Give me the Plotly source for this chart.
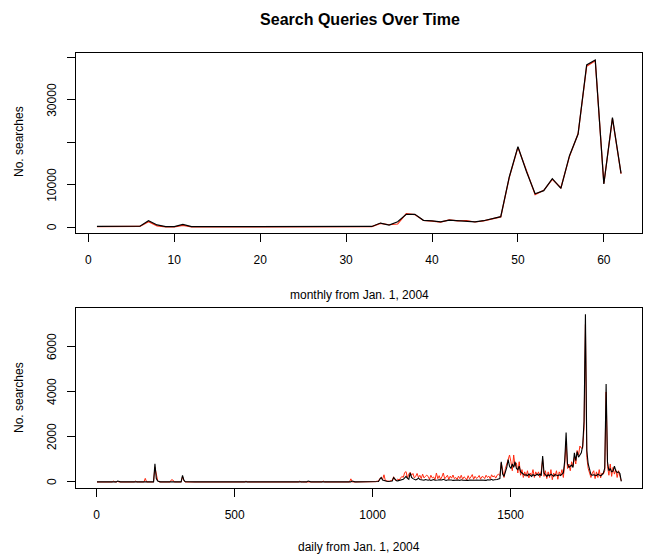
import plotly.graph_objects as go

# ---------------- data ----------------
months = list(range(1, 63))
monthly_black = [200, 200, 250, 200, 200, 250, 1550, 550, 150, 150,
                 700, 150, 150, 150, 150, 150, 200, 150, 150, 150,
                 150, 150, 150, 150, 200, 150, 150, 150, 200, 200,
                 200, 150, 200, 1000, 540, 1300, 3050, 3050, 1650, 1500,
                 1300, 1700, 1550, 1550, 1300, 1550, 1950, 2500, 11900, 18970,
                 13090, 7900, 8620, 11440, 9170, 16850, 21950, 38190, 39360, 10190,
                 25790, 12700]
monthly_red = [150, 150, 200, 150, 150, 200, 1300, 350, 100, 100,
               450, 100, 100, 100, 100, 150, 250, 150, 100, 100,
               100, 100, 100, 150, 250, 150, 100, 100, 150, 250,
               200, 100, 150, 900, 600, 770, 3200, 3000, 1600, 1450,
               1200, 1750, 1500, 1600, 1250, 1500, 1900, 2450, 11800, 18800,
               13300, 7700, 8700, 11300, 9300, 16700, 22000, 37900, 39200, 10300,
               25600, 12600]

days = list(range(1, 1902, 5))
daily_black = [
    5, 5, 5, 5, 5, 5, 5, 5, 5, 5, 5, 5, 5, 5, 5, 40, 5, 5, 5, 5,
    5, 5, 5, 5, 5, 5, 5, 5, 5, 5, 5, 5, 5, 5, 5, 5, 5, 5, 5, 5,
    5, 5, 810, 150, 40, 10, 5, 5, 5, 5, 5, 5, 5, 5, 5, 5, 5, 5, 5, 5,
    5, 5, 295, 80, 10, 5, 5, 5, 5, 5, 5, 5, 5, 5, 5, 30, 5, 5, 5, 5,
    5, 5, 5, 5, 5, 5, 5, 5, 5, 5, 5, 5, 5, 5, 5, 5, 5, 5, 5, 5,
    5, 5, 5, 5, 5, 5, 5, 5, 5, 5, 5, 5, 5, 5, 5, 5, 5, 5, 5, 5,
    5, 5, 5, 5, 5, 5, 5, 5, 5, 5, 5, 5, 5, 5, 5, 5, 5, 5, 5, 5,
    5, 5, 5, 5, 5, 5, 5, 5, 5, 5, 5, 5, 5, 40, 5, 5, 5, 5, 5, 5,
    5, 5, 5, 5, 5, 5, 5, 5, 5, 5, 5, 5, 5, 5, 5, 5, 5, 5, 5, 5,
    5, 5, 5, 5, 5, 40, 5, 5, 5, 5, 5, 5, 5, 5, 5, 5, 5, 5, 5, 5,
    10, 10, 10, 15, 20, 120, 200, 90, 60, 40, 30, 25, 20, 20, 40, 200, 110, 60, 50, 70,
    80, 90, 120, 180, 250, 160, 120, 400, 200, 150, 100, 90, 120, 180, 110, 90, 100, 80, 110, 90,
    80, 100, 70, 90, 110, 80, 70, 90, 100, 80, 90, 120, 80, 70, 90, 100, 80, 90, 70, 80,
    70, 80, 90, 70, 100, 80, 70, 90, 80, 70, 90, 80, 100, 70, 80, 90, 70, 80, 90, 80,
    80, 90, 70, 100, 80, 90, 120, 80, 100, 90, 110, 130, 150, 900, 350, 250, 450, 650, 990, 700,
    600, 800, 650, 900, 600, 550, 700, 450, 400, 350, 300, 320, 280, 350, 300, 250, 330, 280, 300, 350,
    300, 350, 280, 1150, 400, 300, 250, 320, 280, 350, 300, 260, 330, 300, 280, 320, 290, 350, 400, 950,
    2200, 800, 650, 700, 750, 650, 1300, 950, 1350, 1100, 1200, 1300, 1600, 2700, 7450, 1400, 800, 500, 330, 300,
    320, 300, 280, 350, 300, 270, 320, 400, 620, 4350, 880, 500, 600, 450, 480, 700, 500, 420, 450, 380, 30,
]
daily_red = [
    0, 0, 0, 0, 0, 0, 0, 10, 0, 0, 0, 0, 40, 0, 0, 20, 0, 0, 0, 0,
    0, 0, 0, 0, 0, 0, 0, 0, 40, 0, 0, 0, 0, 0, 0, 160, 0, 0, 0, 0,
    0, 0, 650, 280, 60, 0, 0, 0, 0, 0, 0, 0, 0, 0, 100, 90, 0, 0, 0, 0,
    0, 0, 240, 60, 0, 0, 0, 0, 0, 0, 0, 0, 0, 0, 0, 0, 0, 0, 0, 0,
    0, 0, 0, 0, 0, 0, 0, 0, 0, 0, 0, 0, 0, 0, 0, 0, 0, 0, 0, 0,
    0, 0, 0, 0, 0, 0, 30, 0, 40, 0, 0, 0, 30, 0, 0, 0, 0, 0, 0, 0,
    0, 0, 0, 0, 0, 0, 0, 0, 0, 0, 20, 0, 0, 0, 0, 0, 0, 0, 0, 0,
    0, 0, 0, 0, 0, 0, 0, 40, 0, 0, 0, 0, 0, 0, 0, 0, 0, 0, 0, 0,
    0, 0, 0, 0, 40, 0, 0, 0, 0, 0, 0, 0, 0, 0, 0, 0, 0, 0, 0, 0,
    0, 0, 0, 0, 140, 0, 0, 0, 0, 0, 0, 0, 0, 0, 0, 0, 0, 0, 0, 0,
    10, 20, 15, 40, 30, 160, 180, 120, 320, 60, 40, 20, 30, 60, 80, 230, 90, 70, 130, 90,
    150, 250, 200, 420, 460, 180, 350, 430, 300, 380, 180, 250, 380, 200, 300, 150, 350, 180, 250, 300,
    250, 120, 300, 180, 220, 100, 400, 150, 280, 120, 230, 400, 140, 200, 300, 110, 260, 170, 310, 150,
    200, 110, 260, 150, 300, 120, 230, 180, 90, 280, 140, 220, 330, 120, 250, 160, 200, 290, 130, 240,
    230, 150, 300, 200, 260, 140, 320, 220, 280, 170, 300, 350, 280, 850, 420, 200, 600, 800, 1050, 1200,
    900, 500, 1200, 700, 850, 400, 900, 300, 550, 200, 450, 250, 500, 180, 400, 300, 550, 200, 450, 300,
    450, 200, 500, 1000, 250, 500, 150, 450, 200, 550, 100, 400, 250, 500, 120, 450, 300, 550, 200, 800,
    1800, 600, 800, 500, 900, 700, 1100, 800, 1400, 1200, 1600, 1500, 1500, 2400, 7000, 1100, 600, 400, 200, 400,
    500, 150, 450, 200, 550, 180, 400, 350, 500, 4000, 700, 300, 800, 250, 650, 350, 550, 200, 500, 250, 50,
]
assert len(daily_black) == len(days) == len(daily_red), (len(days), len(daily_black), len(daily_red))

top_ticks = [0, 10000, 20000, 30000, 40000]
top_ticktext = ["0", "10000", "", "30000", ""]
bot_ticks = [0, 2000, 4000, 6000]
bot_ticktext = ["0", "2000", "4000", "6000"]
top_xticks = [0, 10, 20, 30, 40, 50, 60]
bot_xticks = [0, 500, 1000, 1500]

RED = "#ff2a10"
FONT = "Liberation Sans, Arial, sans-serif"

fig = go.Figure()
fig.add_trace(go.Scatter(x=months, y=monthly_red, mode="lines",
                         line=dict(color=RED, width=1.2), xaxis="x", yaxis="y", showlegend=False))
fig.add_trace(go.Scatter(x=months, y=monthly_black, mode="lines",
                         line=dict(color="black", width=1.2), xaxis="x", yaxis="y", showlegend=False))
fig.add_trace(go.Scatter(x=days, y=daily_red, mode="lines",
                         line=dict(color=RED, width=1), xaxis="x2", yaxis="y2", showlegend=False))
fig.add_trace(go.Scatter(x=days, y=daily_black, mode="lines",
                         line=dict(color="black", width=1.1), xaxis="x2", yaxis="y2", showlegend=False))

axis_common = dict(showline=True, mirror=True, linecolor="black", linewidth=1,
                   ticks="outside", ticklen=8, tickcolor="black", tickwidth=1,
                   showgrid=False, zeroline=False,
                   tickfont=dict(family=FONT, size=12, color="black"))

H_TOP, H_BOT = 53, 66
plot_h = 554 - H_TOP - H_BOT
PLOT_W = 647 - 76 - 5
def py(p):
    return (488 - p) / plot_h

LABEL_X = (52 - 76) / PLOT_W

annotations = [
    dict(text="monthly from Jan. 1, 2004", xref="paper", yref="paper", x=0.5, y=py(295),
         xanchor="center", yanchor="middle", showarrow=False,
         font=dict(family=FONT, size=12, color="black")),
    dict(text="daily from Jan. 1, 2004", xref="paper", yref="paper", x=0.5, y=py(547),
         xanchor="center", yanchor="middle", showarrow=False,
         font=dict(family=FONT, size=12, color="black")),
    dict(text="No. searches", xref="paper", yref="paper", x=(19 - 76) / PLOT_W, y=py(142),
         xanchor="center", yanchor="middle", showarrow=False, textangle=-90,
         font=dict(family=FONT, size=12, color="black")),
    dict(text="No. searches", xref="paper", yref="paper", x=(19 - 76) / PLOT_W, y=py(398),
         xanchor="center", yanchor="middle", showarrow=False, textangle=-90,
         font=dict(family=FONT, size=12, color="black")),
]
for v, t in zip(top_ticks, top_ticktext):
    if t:
        annotations.append(dict(text=t, xref="paper", yref="y", x=LABEL_X, y=v,
                                xanchor="center", yanchor="middle", showarrow=False,
                                textangle=-90, font=dict(family=FONT, size=12, color="black")))
for v, t in zip(bot_ticks, bot_ticktext):
    annotations.append(dict(text=t, xref="paper", yref="y2", x=LABEL_X, y=v,
                            xanchor="center", yanchor="middle", showarrow=False,
                            textangle=-90, font=dict(family=FONT, size=12, color="black")))

fig.update_layout(
    width=647, height=554,
    margin=dict(l=76, r=5, t=H_TOP, b=H_BOT),
    paper_bgcolor="white", plot_bgcolor="white",
    font=dict(family=FONT, color="black"),
    title=dict(text="<b>Search Queries Over Time</b>", x=360 / 647, xanchor="center",
               y=1 - 19 / 554, yanchor="middle",
               font=dict(family=FONT, size=16, color="black")),
    xaxis=dict(domain=[0, 1], anchor="y", range=[-1.44, 64.44], tickvals=top_xticks,
               ticklabelstandoff=8, **axis_common),
    yaxis=dict(domain=[py(233), 1], anchor="x", range=[-1341, 41012], tickvals=top_ticks,
               showticklabels=False, **axis_common),
    xaxis2=dict(domain=[0, 1], anchor="y2", range=[-75, 1976], tickvals=bot_xticks,
                ticklabelstandoff=8, **axis_common),
    yaxis2=dict(domain=[0, py(308)], anchor="x2", range=[-267, 7733], tickvals=bot_ticks,
                showticklabels=False, **axis_common),
    annotations=annotations,
)

fig.write_html("out.html")
